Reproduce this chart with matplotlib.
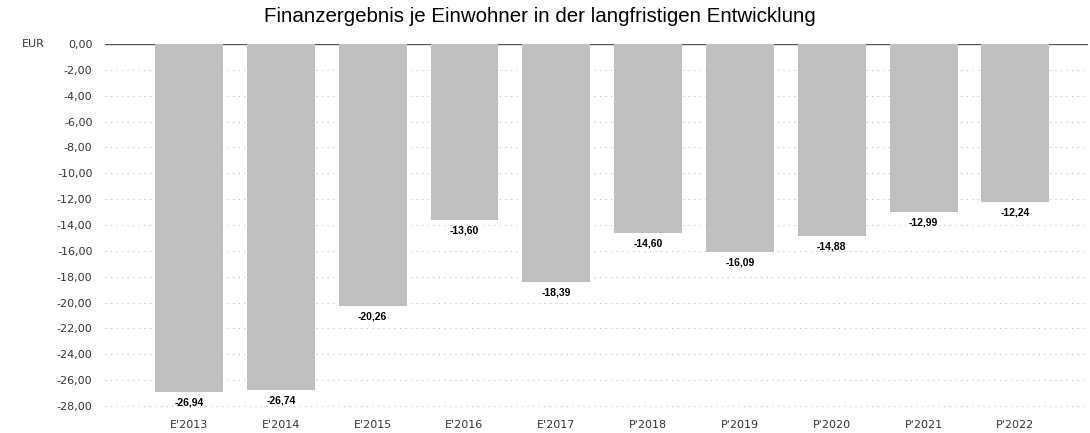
import matplotlib
matplotlib.use("Agg")
import matplotlib.pyplot as plt
import numpy as np

categories = ["E'2013", "E'2014", "E'2015", "E'2016", "E'2017",
              "P'2018", "P'2019", "P'2020", "P'2021", "P'2022"]
values = [-26.94, -26.74, -20.26, -13.60, -18.39,
          -14.60, -16.09, -14.88, -12.99, -12.24]
yticks = list(range(0, -29, -2))

plt.rcParams['font.family'] = ['Liberation Sans', 'DejaVu Sans']

W, H = 1090, 433
fig = plt.figure(figsize=(W / 100, H / 100), dpi=100)
top_px, bottom_px = 44, 44 + 28.4 * 12.93
left_px, right_px = 105, 1088
ax = fig.add_axes([left_px / W, 1 - bottom_px / H,
                   (right_px - left_px) / W, (bottom_px - top_px) / H])

x = np.arange(len(categories))
ax.set_xlim(-0.915, 9.79)
ax.set_ylim(-28.4, 0)

for t in yticks:
    if t == 0:
        ax.axhline(0, color='#555555', lw=1.0, zorder=1)
    else:
        ax.axhline(t, color='#bdbdbd', lw=0.8, ls=(0, (1, 4)), zorder=1)

ax.bar(x, values, width=0.74, color='#bfbfbf', edgecolor='none', zorder=2)

for xi, v in zip(x, values):
    ax.annotate(f"{v:.2f}".replace('.', ','), (xi, v), xytext=(0, -4),
                textcoords='offset points', ha='center', va='top',
                fontsize=7.5, fontweight='bold', color='black')

tick_font = dict(family='DejaVu Sans', size=8)
ax.set_yticks(yticks)
ax.set_yticklabels([f"{t:.2f}".replace('.', ',') for t in yticks],
                   color='#333333', fontdict=tick_font)
ax.set_xticks(x)
ax.set_xticklabels(categories, color='#333333', fontdict=tick_font)
ax.tick_params(axis='both', length=0)
ax.tick_params(axis='y', pad=9)
ax.tick_params(axis='x', pad=6)
for s in ax.spines.values():
    s.set_visible(False)

fig.text(22 / W, 1 - 44 / H, "EUR", fontsize=8, color='#333333',
         family='DejaVu Sans', ha='left', va='center')
fig.text(540 / W, 1 - 16 / H, "Finanzergebnis je Einwohner in der langfristigen Entwicklung",
         fontsize=14.8, ha='center', va='center', color='black')

fig.savefig("out.png", dpi=100)
